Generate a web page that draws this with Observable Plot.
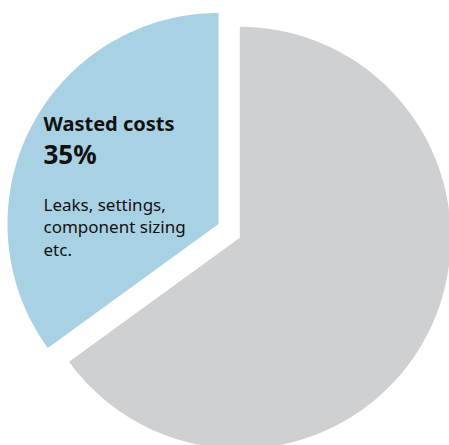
<!DOCTYPE html>
<html><head><meta charset="utf-8">
<script src="https://cdn.jsdelivr.net/npm/d3@7"></script>
<script src="https://cdn.jsdelivr.net/npm/@observablehq/plot@0.6"></script>
<style>body{margin:0;background:#fff;overflow:hidden}</style>
</head><body><div id="chart"></div>
<script>
// Data
const categories = ["Wasted costs", "Other costs"];
const shares = [35, 65];
const sliceColors = ["#a9d1e4", "#cfd0d2"];
const titleText = "Wasted costs";
const valueText = "35%";
const noteLines = ["Leaks, settings,", "component sizing", "etc."];

// Layout
const W = 449, H = 445;
const R = 211;
const centers = [[218, 223.5], [239.3, 237.3]]; // exploded slice vertices

const total = d3.sum(shares);
const pie = d3.pie().sort(null)
  .startAngle(-2 * Math.PI * shares[0] / total)
  .endAngle(2 * Math.PI - 2 * Math.PI * shares[0] / total);
const arcs = pie(shares);

const pts = [];
arcs.forEach((a, i) => {
  const [cx, cy] = centers[i];
  pts.push({cat: categories[i], x: cx, y: cy});
  const n = 180;
  for (let k = 0; k <= n; ++k) {
    const t = a.startAngle + (a.endAngle - a.startAngle) * k / n;
    pts.push({cat: categories[i], x: cx + R * Math.sin(t), y: cy - R * Math.cos(t)});
  }
});

const tx = centers[0][0] - 175;
const labelRows = [
  {text: titleText, y: centers[0][1] - 93, size: 20, weight: "bold"},
  {text: valueText, y: centers[0][1] - 60, size: 26, weight: "bold"}
];

const font = "'Noto Sans', sans-serif";
const chart = Plot.plot({
  width: W, height: H,
  margin: 0,
  style: {background: "#fff", fontFamily: font},
  x: {type: "identity", axis: null},
  y: {type: "identity", axis: null},
  color: {domain: categories, range: sliceColors},
  marks: [
    Plot.line(pts, {x: "x", y: "y", z: "cat", fill: "cat", stroke: null, curve: "linear-closed"}),
    Plot.text([labelRows[0]], {x: tx, y: "y", text: "text", textAnchor: "start", lineAnchor: "bottom", fontSize: 20, fontWeight: "bold", fill: "#111"}),
    Plot.text([labelRows[1]], {x: tx, y: "y", text: "text", textAnchor: "start", lineAnchor: "bottom", fontSize: 26, fontWeight: "bold", fill: "#111"}),
    Plot.text([noteLines.join("\n")], {x: tx, y: centers[0][1] + 32, text: d => d, textAnchor: "start", lineAnchor: "bottom", fontSize: 17, lineHeight: 1.33, fill: "#111"})
  ]
});
document.getElementById("chart").appendChild(chart);
</script>
</body></html>
